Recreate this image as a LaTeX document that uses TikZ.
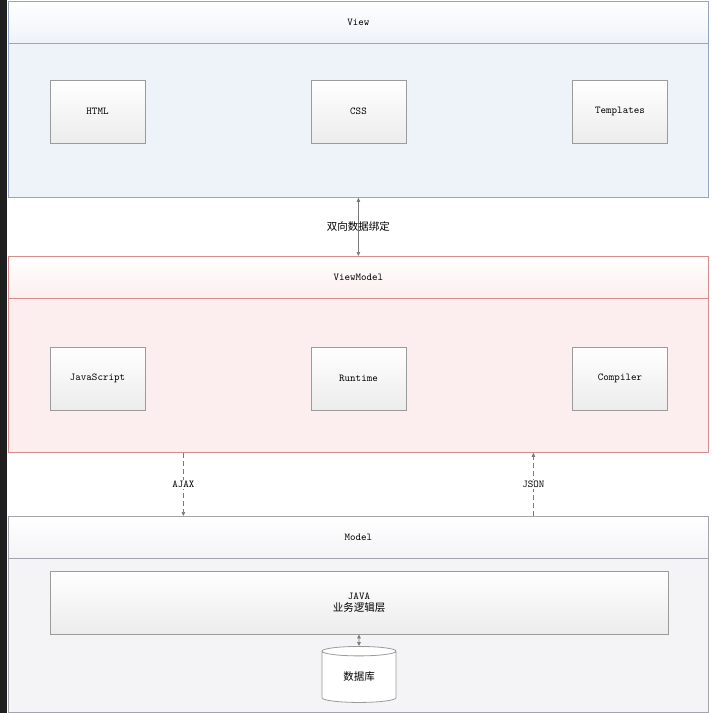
\documentclass[tikz,border=0pt]{standalone}
\usepackage{fontspec}
\usepackage{xcolor}
\usepackage{tikz}
\usetikzlibrary{shapes.geometric,arrows.meta}
\newfontfamily\cjk{Noto Sans CJK SC}
\definecolor{viewfill}{HTML}{EEF2F9}
\definecolor{viewline}{HTML}{94A6C2}
\definecolor{vmfill}{HTML}{FCEEEE}
\definecolor{vmline}{HTML}{D68C8C}
\definecolor{modelfill}{HTML}{F4F3F6}
\definecolor{modelline}{HTML}{A7A3AE}
\definecolor{boxline}{HTML}{9B9B9B}
\definecolor{boxbottom}{HTML}{ECECEC}
\definecolor{linkgray}{HTML}{7A7A7A}

\begin{document}
\begin{tikzpicture}[x=1pt,y=-1pt,
  font=\ttfamily\fontsize{10.5}{12}\selectfont,
  panel/.style={rectangle,draw,line width=0.8pt,anchor=north west,minimum width=700pt,minimum height=196pt,inner sep=0pt},
  head/.style={rectangle,draw,line width=0.8pt,anchor=north west,minimum width=700pt,minimum height=42pt,inner sep=0pt},
  part/.style={rectangle,draw=boxline,line width=0.8pt,top color=white,bottom color=boxbottom,minimum width=95pt,minimum height=63pt,inner sep=0pt},
  link/.style={draw=linkgray,line width=0.7pt,{Triangle[length=4pt,width=3.5pt]}-{Triangle[length=4pt,width=3.5pt]}},
  flow/.style={draw=linkgray,line width=0.7pt,dash pattern=on 5pt off 3pt,-{Triangle[length=4pt,width=3.5pt]}}]
\useasboundingbox (0,0) rectangle (712,713);
\fill[black!88] (0,0) rectangle (7,713);

\node (view) [panel,draw=viewline,fill=viewfill] at (8,1) {};
\node (viewhead) [head,draw=viewline,top color=white,bottom color=viewfill] at (8,1) {View};
\path (97.5,111.5) node(html) [part] {HTML}
  (358.5,111.5) node(css) [part] {CSS}
  (620,111.5) node(tpl) [part] {Templates};

\node (vm) [panel,draw=vmline,fill=vmfill] at (8,256) {};
\node (vmhead) [head,draw=vmline,top color=white,bottom color=vmfill] at (8,256) {ViewModel};
\path (97.5,378.5) node(js) [part] {JavaScript}
  (358.5,378.5) node(runtime) [part] {Runtime}
  (620,378.5) node(compiler) [part] {Compiler};

\node (model) [panel,draw=modelline,fill=modelfill] at (8,516) {};
\node (modelhead) [head,draw=modelline,top color=white,bottom color=modelfill] at (8,516) {Model};
\node (java) [part,minimum width=618pt,align=center] at (359,602.5) {JAVA\\{\cjk 业务逻辑层}};
\node (db) [cylinder,shape border rotate=90,draw=boxline,line width=0.8pt,fill=white,aspect=0.3,minimum width=74pt,minimum height=56pt,inner sep=0pt] at (359,677) {\cjk 数据库};

\draw[link] (view) -- node {\cjk 双向数据绑定} (vm);
\draw[flow] ([xshift=-175pt]vm.south) -- node[fill=white,inner sep=1pt] {AJAX} ([xshift=-175pt]model.north);
\draw[flow] ([xshift=175pt]model.north) -- node[fill=white,inner sep=1pt] {JSON} ([xshift=175pt]vm.south);
\draw[link] (java) -- (db);
\end{tikzpicture}
\end{document}
